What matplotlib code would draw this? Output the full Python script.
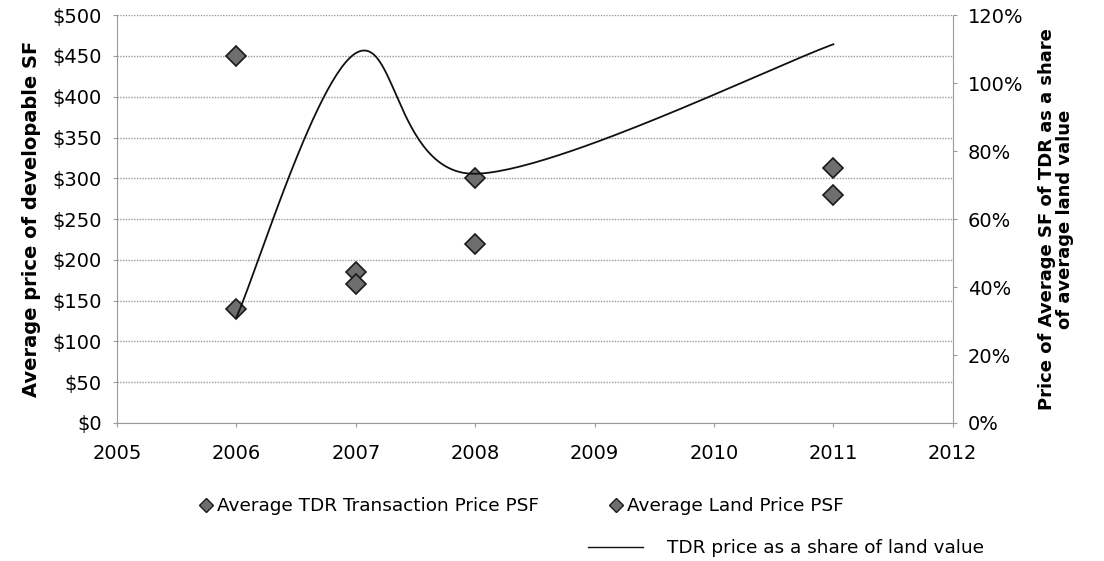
import numpy as np
import matplotlib.pyplot as plt
from matplotlib.lines import Line2D
import matplotlib.ticker as ticker

plt.rcParams["font.family"] = "DejaVu Sans"

years = [2006, 2007, 2008, 2011]
tdr_price = [140, 185, 220, 312]
land_price = [450, 170, 300, 280]
share = [t / l for t, l in zip(tdr_price, land_price)]

year_ticks = list(range(2005, 2013))
price_ticks = list(range(0, 501, 50))
share_ticks = [0, 0.2, 0.4, 0.6, 0.8, 1.0, 1.2]


def smooth_curve(xs, ys, n=60):
    # bezier smoothing through each point, spreadsheet-style
    px = [xs[0]] + list(xs) + [xs[-1]]
    py = [ys[0]] + list(ys) + [ys[-1]]
    out_x, out_y = [], []
    t = np.linspace(0, 1, n)
    for i in range(1, len(px) - 2):
        x0, y0 = px[i], py[i]
        x3, y3 = px[i + 1], py[i + 1]
        x1 = x0 + (px[i + 1] - px[i - 1]) / 6
        y1 = y0 + (py[i + 1] - py[i - 1]) / 6
        x2 = x3 - (px[i + 2] - px[i]) / 6
        y2 = y3 - (py[i + 2] - py[i]) / 6
        bx = (1 - t) ** 3 * x0 + 3 * (1 - t) ** 2 * t * x1 + 3 * (1 - t) * t ** 2 * x2 + t ** 3 * x3
        by = (1 - t) ** 3 * y0 + 3 * (1 - t) ** 2 * t * y1 + 3 * (1 - t) * t ** 2 * y2 + t ** 3 * y3
        out_x.extend(bx)
        out_y.extend(by)
    return out_x, out_y


fig = plt.figure(figsize=(11.04, 5.61), dpi=100)
ax = fig.add_axes([0.106, 0.246, 0.757, 0.727])

grid_kw = dict(color="#9a9a9a", linestyle=(0, (1, 1)), linewidth=1.0)
for v in price_ticks:
    ax.axhline(v, zorder=0, **grid_kw)

marker_kw = dict(marker="D", markersize=10.5, markerfacecolor="#6e6e6e",
                 markeredgecolor="#1a1a1a", markeredgewidth=1.2, linestyle="none")
ax.plot(years, tdr_price, zorder=3, **marker_kw)
ax.plot(years, land_price, zorder=3, **marker_kw)

ax.set_xlim(2005, 2012)
ax.set_ylim(0, 500)
ax.set_xticks(year_ticks)
ax.set_yticks(price_ticks)
ax.yaxis.set_major_formatter(ticker.FuncFormatter(lambda v, p: "${:.0f}".format(v)))
ax.tick_params(axis="both", labelsize=14, length=3, color="#9a9a9a", pad=8)
ax.tick_params(axis="x", pad=12)
ax.set_ylabel("Average price of developable SF", fontsize=14, fontweight="bold", labelpad=8)

for side in ["top", "right"]:
    ax.spines[side].set_visible(False)
for side in ["left", "bottom"]:
    ax.spines[side].set_color("#9a9a9a")
    ax.spines[side].set_linestyle((0, (1, 1)))

ax2 = ax.twinx()
cx, cy = smooth_curve(years, share)
ax2.plot(cx, cy, color="#111111", linewidth=1.3, zorder=4)
ax2.set_ylim(0, 1.2)
ax2.set_yticks(share_ticks)
ax2.yaxis.set_major_formatter(ticker.FuncFormatter(lambda v, p: "{:.0f}%".format(v * 100)))
ax2.tick_params(axis="y", labelsize=14, length=3, color="#9a9a9a", pad=8)
ax2.set_ylabel("Price of Average SF of TDR as a share\nof average land value",
               fontsize=13, fontweight="bold", labelpad=10, linespacing=1.05)
for side in ["top", "left", "bottom"]:
    ax2.spines[side].set_visible(False)
ax2.spines["right"].set_color("#9a9a9a")
ax2.spines["right"].set_linestyle((0, (1, 1)))

legend_marker = dict(marker="D", markersize=7, markerfacecolor="#6e6e6e",
                     markeredgecolor="#1a1a1a", markeredgewidth=1.0, linestyle="none")
h1 = Line2D([], [], **legend_marker)
h2 = Line2D([], [], **legend_marker)
fig.legend([h1, h2], ["Average TDR Transaction Price PSF", "Average Land Price PSF"],
           loc="center", bbox_to_anchor=(0.472, 1 - 506 / 561), ncol=2, frameon=False,
           fontsize=13.3, handlelength=0.8, handletextpad=0.2, columnspacing=3.8)
h3 = Line2D([], [], color="#111111", linewidth=1.0)
fig.legend([h3], ["TDR price as a share of land value"],
           loc="center", bbox_to_anchor=(0.712, 1 - 548 / 561), frameon=False,
           fontsize=13.3, handlelength=3.0, handletextpad=1.3)

fig.savefig("out.png", dpi=100)
